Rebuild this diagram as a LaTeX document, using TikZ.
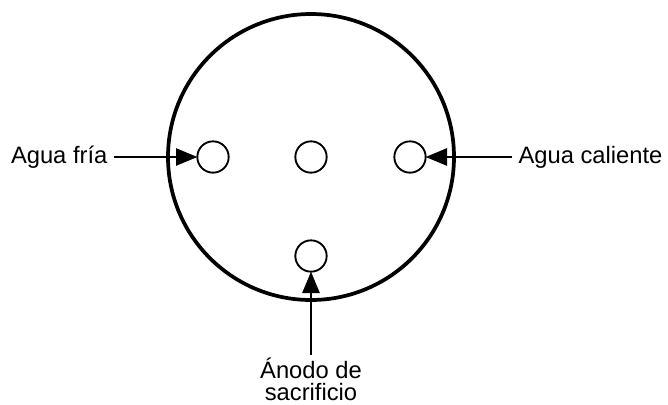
\documentclass[tikz,border=0pt]{standalone}
\usepackage{fontspec}
\setmainfont{Liberation Sans}
\usetikzlibrary{arrows.meta, positioning}

\begin{document}
\begin{tikzpicture}[x=0.75pt, y=-0.75pt, >={Triangle[length=16pt, width=13pt]},
    font=\fontsize{17.8}{17}\selectfont,
    port/.style={shape=circle, draw, line width=1.4pt, minimum size=23.5pt, inner sep=0pt, outer sep=0pt},
    lbl/.style={inner xsep=5pt, inner ysep=2pt, outer sep=0pt},
    feed/.style={->, line width=1.1pt}]
    \useasboundingbox (0,0) rectangle (668,404);

    \node[shape=circle, draw, line width=2.8pt, minimum size=214.5pt, inner sep=0pt] at (311,157) (tank) {};

    \node[port] at (213,157) (cold) {};
    \node[port] at (311,157) (mid) {};
    \node[port] at (410,157) (hot) {};
    \node[port] at (311,256) (anode) {};

    \node[lbl, left=62.5pt of cold] (coldlbl) {Agua fría};
    \node[lbl, right=64.7pt of hot] (hotlbl) {Agua caliente};
    \node[lbl, align=center, below=62.5pt of anode] (anodelbl) {Ánodo de\\sacrificio};

    \draw[feed] (coldlbl.east) -- (cold.west);
    \draw[feed] (hotlbl.west) -- (hot.east);
    \draw[feed] (anodelbl.north) -- (anode.south);
\end{tikzpicture}
\end{document}
